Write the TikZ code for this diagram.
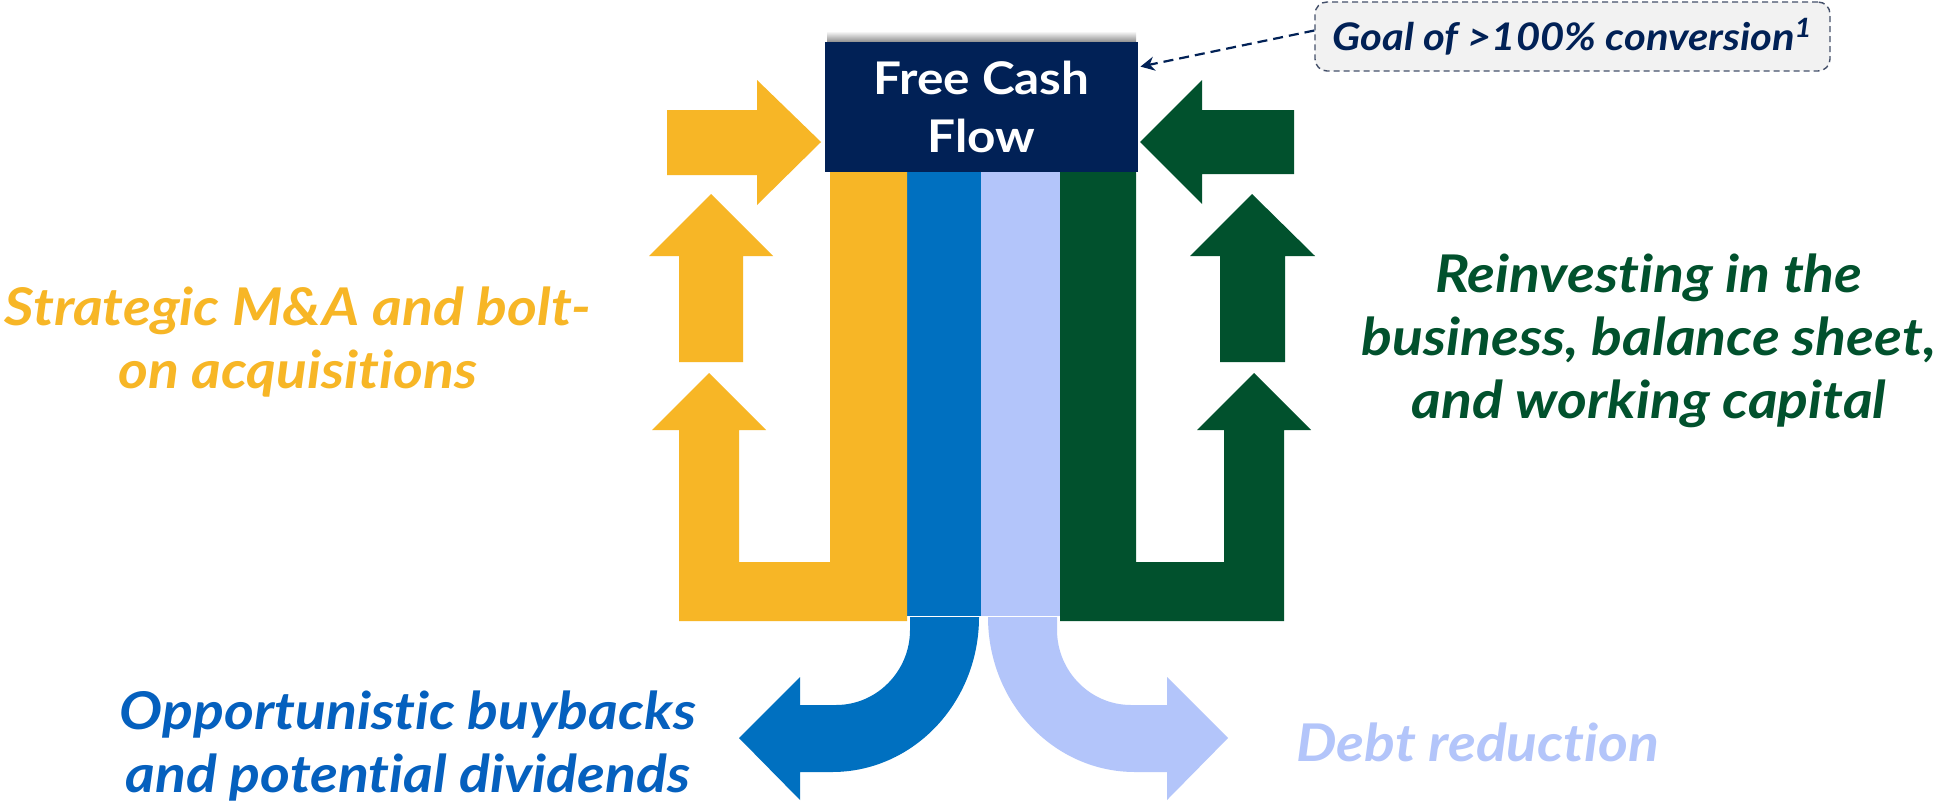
\documentclass[tikz,border=0pt]{standalone}
\usepackage{fontspec}
\setmainfont{Lato}[FakeStretch=1.1,Ligatures=NoCommon]
\usetikzlibrary{arrows.meta}
\definecolor{cyel}{HTML}{F7B626}
\definecolor{cblue}{HTML}{0070C0}
\definecolor{clight}{HTML}{B3C5FA}
\definecolor{cgreen}{HTML}{01512D}
\definecolor{cnavy}{HTML}{012156}
\definecolor{ctxtblue}{HTML}{0560BE}
\definecolor{cgoalfill}{HTML}{F2F2F2}
\definecolor{cgoaldraw}{HTML}{44506A}
\begin{document}
\begin{tikzpicture}[x=0.5pt,y=-0.5pt,
  lbl/.style={align=center, inner sep=0pt, anchor=base},
  bigital/.style={font=\fontsize{26}{31.5}\selectfont\bfseries\itshape},
  fcfbox/.style={fill=cnavy, text=white, align=center, inner sep=0pt,
    minimum width=156.5pt, minimum height=65pt,
    font=\fontsize{22.5}{29}\selectfont\bfseries},
  goalbox/.style={draw=cgoaldraw, fill=cgoalfill, dashed, dash pattern=on 3pt off 2pt,
    line width=0.7pt, rounded corners=6pt, minimum width=257.5pt, minimum height=34.5pt,
    inner sep=0pt, text=cnavy, font=\fontsize{19}{21}\selectfont\bfseries\itshape},
  dashlink/.style={draw=cnavy, line width=1.1pt, dash pattern=on 5pt off 3pt,
    -{Stealth[length=7pt,width=7pt]}}
]
\useasboundingbox (0,0) rectangle (1941,803);
\fill[white] (0,0) rectangle (1941,803);

% shadow above the box
\shade[top color=white, bottom color=black!45] (827,31) rectangle (1136,42);

% vertical bars
\fill[cblue] (907,172) rectangle (981,616);
\fill[clight] (981,172) rectangle (1060,616);

% yellow L arrow with bar
\fill[cyel] (679,621) -- (679,430) -- (652,430) -- (709,373) -- (766,430) -- (739,430)
  -- (739,562) -- (830,562) -- (830,172) -- (907,172) -- (907,621) -- cycle;
% green L arrow with bar
\fill[cgreen] (1284,621) -- (1284,430) -- (1311,430) -- (1254,373) -- (1197,430) -- (1224,430)
  -- (1224,562) -- (1136,562) -- (1136,172) -- (1060,172) -- (1060,621) -- cycle;

% upper up arrows
\fill[cyel] (679,362) -- (679,256) -- (649,256) -- (711,194) -- (773,256) -- (743,256) -- (743,362) -- cycle;
\fill[cgreen] (1220,362) -- (1220,256) -- (1190,256) -- (1252,194) -- (1315,256) -- (1285,256) -- (1285,362) -- cycle;

% side arrows into the box
\fill[cyel] (667,110) -- (757,110) -- (757,80) -- (821,142) -- (757,205) -- (757,175) -- (667,175) -- cycle;
\fill[cgreen] (1294,110) -- (1202,110) -- (1202,80) -- (1140,142) -- (1202,204) -- (1202,174) -- (1294,174) -- cycle;

% curved outflow arrows
\fill[cblue] (910,617) -- (979,617) .. controls (979,703) and (913,772) .. (832,772) -- (800,772)
  -- (800,800) -- (739,738) -- (800,677) -- (800,705) -- (836,705)
  .. controls (877,705) and (910,671) .. (910,630) -- cycle;
\fill[clight] (1057,617) -- (988,617) .. controls (988,703) and (1054,772) .. (1135,772) -- (1167,772)
  -- (1167,800) -- (1228,738) -- (1167,677) -- (1167,705) -- (1131,705)
  .. controls (1090,705) and (1057,671) .. (1057,630) -- cycle;

% central box
\node[fcfbox] (fcf) at (981.5,107) {Free Cash\\Flow};

% goal callout
\node[goalbox] (goal) at (1572.5,36.5) {Goal of >100\% conversion\textsuperscript{1}};
\draw[dashlink] ([yshift=3pt]goal.west) -- ([xshift=1pt,yshift=-12.5pt]fcf.north east);

% labels (anchored at the baseline of the last line)
\node[lbl, bigital, text=cyel] (ma) at (298,388) {Strategic M\&A and bolt-\\on acquisitions};
\node[lbl, bigital, text=cgreen] (reinv) at (1649,418) {Reinvesting in the\\business, balance sheet,\\and working capital};
\node[lbl, bigital, text=ctxtblue] (buy) at (408,792) {Opportunistic buybacks\\and potential dividends};
\node[lbl, bigital, text=clight] (debt) at (1478,761) {Debt reduction};
\end{tikzpicture}
\end{document}
